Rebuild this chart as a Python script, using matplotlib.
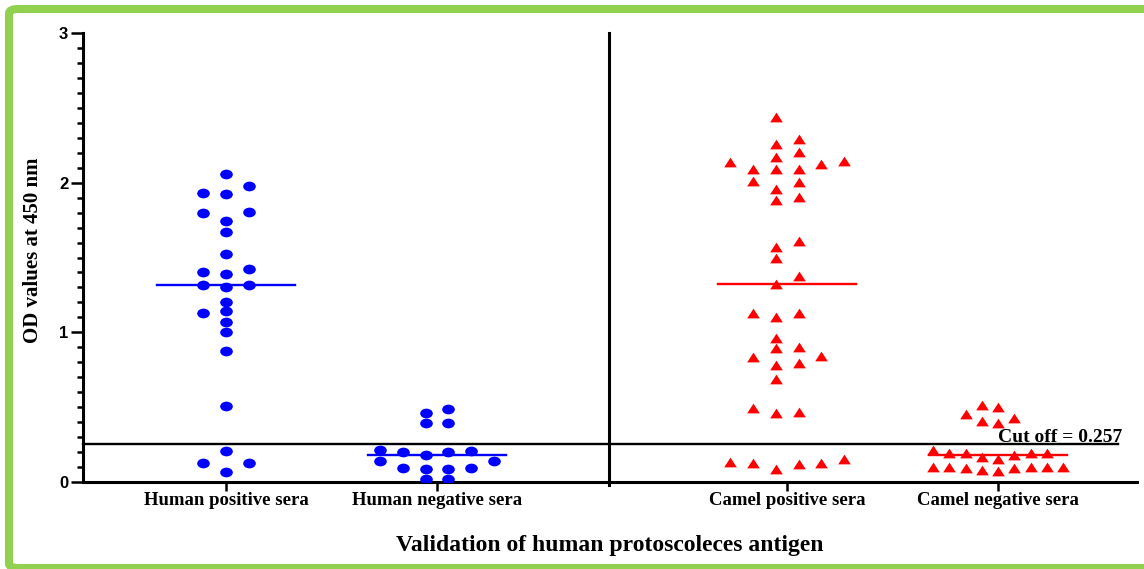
import numpy as np
import matplotlib
matplotlib.use("Agg")
import matplotlib.pyplot as plt
from matplotlib.path import Path
from matplotlib.patches import FancyBboxPatch

# OD values
groups = ["Human positive sera", "Human negative sera",
          "Camel positive sera", "Camel negative sera"]

human_pos = [2.058, 1.977, 1.924, 1.928, 1.799, 1.803, 1.743, 1.670, 1.523,
             1.405, 1.389, 1.425, 1.305, 1.314, 1.314, 1.205, 1.127, 1.140,
             1.071, 1.004, 0.873, 0.508, 0.209, 0.129, 0.129, 0.069]
human_neg = [0.486, 0.463, 0.396, 0.396, 0.203, 0.142, 0.214, 0.087, 0.178,
             0.096, 0.018, 0.087, 0.018, 0.200, 0.096, 0.209, 0.142]
camel_pos = [2.440, 2.291, 2.258, 2.202, 2.146, 2.173, 2.138, 2.122, 2.093,
             2.089, 2.093, 2.013, 2.004, 1.957, 1.884, 1.904, 1.610, 1.568,
             1.494, 1.376, 1.323, 1.127, 1.131, 1.104, 0.960, 0.893, 0.904,
             0.842, 0.782, 0.837, 0.797, 0.686, 0.463, 0.470, 0.492, 0.118,
             0.152, 0.125, 0.136, 0.089, 0.125]
camel_neg = [0.503, 0.514, 0.426, 0.396, 0.410, 0.454, 0.196, 0.165, 0.180,
             0.196, 0.214, 0.196, 0.196, 0.152, 0.091, 0.098, 0.098, 0.098,
             0.075, 0.098, 0.091, 0.098, 0.080]
cutoff = 0.257

serif = dict(family="Liberation Serif", weight="bold")


def swarm_slots(values, thresh=0.064):
    """Greedy column-scatter layout, tried on whole and half slots."""
    best = None
    for shift in (0.0, 0.5):
        cands = sorted({k + shift for k in range(-8, 9)}, key=lambda s: (abs(s), s))
        placed = []
        slots = np.zeros(len(values))
        for i in np.argsort(values, kind="stable"):
            v = values[i]
            for s in cands:
                if all(not (ps == s and abs(pv - v) < thresh) for ps, pv in placed):
                    break
            placed.append((s, v))
            slots[i] = s
        if best is None or np.abs(slots).max() < np.abs(best).max():
            best = slots
    return best


# slightly flattened symbols, like the stretched original
dot = Path(Path.unit_circle().vertices * [1, 0.77], Path.unit_circle().codes)
tri = Path([(0, 0.77), (-1, -0.77), (1, -0.77), (0, 0.77)],
           [Path.MOVETO, Path.LINETO, Path.LINETO, Path.CLOSEPOLY])

fig = plt.figure(figsize=(11.44, 5.69), dpi=100)
ax = fig.add_axes([83 / 1144, 87 / 569, 1054 / 1144, 449 / 569])

positions = [0, 1, 2.66, 3.66]
colors = ["#0000FF", "#0000FF", "#FF0000", "#FF0000"]
shapes = [dot, dot, tri, tri]

for vals, pos, col, shp in zip([human_pos, human_neg, camel_pos, camel_neg],
                               positions, colors, shapes):
    v = np.asarray(vals)
    slots = swarm_slots(v)
    span = slots.max() - slots.min()
    step = 0.1076 if span == 0 else min(0.1076, 0.616 / span)
    ax.plot(pos + slots * step, v, ls="none", marker=shp, ms=9.1,
            color=col, mew=0, zorder=3)
    med = np.median(v)
    ax.plot([pos - 0.327, pos + 0.327], [med, med], color=col, lw=1.7, zorder=4)

xmin, xmax = -0.678, 4.318
ax.set_xlim(xmin, xmax)
ax.set_ylim(0, 3)

# cut-off line and divider between human and camel groups
ax.plot([xmin, 4.227], [cutoff, cutoff], color="black", lw=1.7, clip_on=False, zorder=2)
ax.plot([1.817, 1.817], [-0.02, 3], color="black", lw=2.2, clip_on=False, zorder=2)
ax.text(3.953, 0.267, f"Cut off = {cutoff}", ha="center", va="baseline",
        fontsize=14, **serif)

for side in ["top", "right"]:
    ax.spines[side].set_visible(False)
for side in ["left", "bottom"]:
    ax.spines[side].set_linewidth(2.2)

ax.set_xticks(positions)
ax.set_xticklabels(groups, fontsize=13.5, **serif)
ax.set_yticks([0, 1, 2, 3])
ax.set_yticks(np.arange(0, 3.001, 0.1), minor=True)
ax.set_yticklabels(["0", "1", "2", "3"], fontsize=12,
                   family="Liberation Sans", weight="bold")
ax.tick_params(axis="x", length=6.5, width=1.8, pad=1)
ax.tick_params(axis="y", which="major", length=8.6, width=1.8, pad=2)
ax.tick_params(axis="y", which="minor", length=4.6, width=1.8)

ax.set_ylabel("OD values at 450 nm", fontsize=15, va="center", **serif)
ax.yaxis.set_label_coords(-0.0474, 0.517)
ax.set_xlabel("Validation of human protoscoleces antigen", fontsize=17,
              va="center", **serif)
ax.xaxis.set_label_coords(0.5, -0.1425)

# green frame round the picture
frame = FancyBboxPatch((9 / 1144, 1 / 569), 1151 / 1144, 559 / 569,
                       boxstyle="round,pad=0,rounding_size=0.008",
                       transform=fig.transFigure, fill=False,
                       ec="#92D050", lw=5.8, clip_on=False)
fig.patches.append(frame)

fig.savefig("out.png", dpi=100)
